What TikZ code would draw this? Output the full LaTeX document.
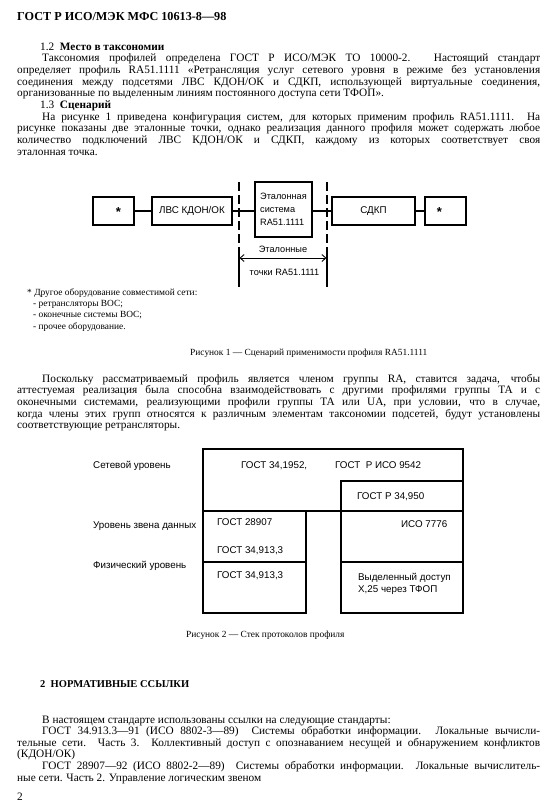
\documentclass[tikz,border=0pt]{standalone}
\usepackage{graphicx}
\usepackage{fontspec}
\setmainfont{Liberation Serif}
\newfontfamily\figfont{Liberation Sans}
\usetikzlibrary{arrows.meta}
\newsavebox\jlinebox
\newcommand\JS[2]{\sbox\jlinebox{#2}\ifdim\wd\jlinebox>#1\relax\resizebox{#1}{\height}{\usebox\jlinebox}\else\makebox[#1][s]{#2}\fi}
\begin{document}
\begin{tikzpicture}[x=1pt,y=-1pt,
  bt/.style={anchor=base west, inner sep=0pt, font=\fontsize{11.3}{11.7}\selectfont},
  sm/.style={anchor=base west, inner sep=0pt, font=\fontsize{9.4}{11}\selectfont},
  ft/.style={anchor=base west, inner sep=0pt, font=\figfont\fontsize{9.8}{12}\selectfont},
  fbox/.style={draw, line width=1.1pt, inner sep=0pt, font=\figfont\fontsize{9.8}{13}\selectfont},
  cell/.style={draw, line width=1.1pt, inner sep=0pt},
  star/.style={anchor=base, inner sep=0pt, font=\figfont\bfseries\fontsize{13}{13}\selectfont},
  conn/.style={line width=1.1pt},
  refline/.style={line width=1.1pt, dash pattern=on 9pt off 4pt},
  dimarrow/.style={line width=0.9pt, {Straight Barb[length=4pt,width=7pt]}-{Straight Barb[length=4pt,width=7pt]}}
]
\useasboundingbox (0,0) rectangle (557,812);
\fill[white] (0,0) rectangle (557,812);

% header
\node[bt, font=\fontsize{12.2}{13}\selectfont\bfseries] (hdr) at (17,20) {ГОСТ Р ИСО/МЭК МФС 10613-8—98};

% 1.2
\node[bt] (s12) at (40,50) {1.2 \ \textbf{Место в таксономии}};
\node[bt] (p1a) at (42,61.7) {\JS{498pt}{Таксономия профилей определена ГОСТ Р ИСО/МЭК ТО 10000-2. Настоящий стандарт}};
\node[bt] (p1b) at (17,73.4) {\JS{523pt}{определяет профиль RA51.1111 «Ретрансляция услуг сетевого уровня в режиме без установления}};
\node[bt] (p1c) at (17,85.1) {\JS{523pt}{соединения между подсетями ЛВС КДОН/ОК и СДКП, использующей виртуальные соединения,}};
\node[bt] (p1d) at (17,96.8) {организованные по выделенным линиям постоянного доступа сети ТФОП».};
% 1.3
\node[bt] (s13) at (40,108.5) {1.3 \ \textbf{Сценарий}};
\node[bt] (p2a) at (42,120.2) {\JS{498pt}{На рисунке 1 приведена конфигурация систем, для которых применим профиль RA51.1111. На}};
\node[bt] (p2b) at (17,131.9) {\JS{523pt}{рисунке показаны две эталонные точки, однако реализация данного профиля может содержать любое}};
\node[bt] (p2c) at (17,143.6) {\JS{523pt}{количество подключений ЛВС КДОН/ОК и СДКП, каждому из которых соответствует своя}};
\node[bt] (p2d) at (17,155.3) {эталонная точка.};

% Figure 1
\node[fbox, minimum width=41pt, minimum height=28pt] (b1) at (113.5,211) {};
\node[star] (st1) at (118.5,216.5) {*};
\node[fbox, minimum width=80pt, minimum height=28pt] (lvs) at (192,211) {ЛВС КДОН/ОК};
\node[fbox, minimum width=57pt, minimum height=55pt, align=left, font=\figfont\fontsize{9.2}{13}\selectfont] (et) at (283.5,209.5) {Эталонная\\система\\RA51.1111};
\node[fbox, minimum width=83pt, minimum height=28pt] (sdkp) at (373.5,211) {СДКП};
\node[fbox, minimum width=41pt, minimum height=28pt] (b2) at (445.5,211) {};
\node[star] (st2) at (439.5,216.5) {*};
\draw[conn] (b1.east) -- (lvs.west);
\draw[conn] (lvs.east) -- (lvs.east -| et.west);
\draw[conn] (sdkp.west -| et.east) -- (sdkp.west);
\draw[conn] (sdkp.east) -- (b2.west);
\coordinate (dlt) at (239,182);
\coordinate (dlm) at (239,252);
\coordinate (dlb) at (239,287);
\coordinate (drt) at (327,182);
\coordinate (drm) at (327,252);
\coordinate (drb) at (327,287);
\draw[refline] (dlt) -- (dlm);
\draw[conn] (dlm) -- (dlb);
\draw[refline] (drt) -- (drm);
\draw[conn] (drm) -- (drb);
\coordinate (al) at (239.5,258);
\coordinate (ar) at (326.5,258);
\draw[dimarrow] (al) -- (ar);
\node[ft, anchor=base, font=\figfont\fontsize{9.2}{12}\selectfont] (etl1) at (283,252) {Эталонные};
\node[ft, anchor=base, font=\figfont\fontsize{9.2}{12}\selectfont] (etl2) at (284.5,275.5) {точки RA51.1111};

% footnote
\node[sm] (fn0) at (27,295) {* Другое оборудование совместимой сети:};
\node[sm] (fn1) at (33,306.3) {- ретрансляторы ВОС;};
\node[sm] (fn2) at (33,317.6) {- оконечные системы ВОС;};
\node[sm] (fn3) at (33,329) {- прочее оборудование.};
\node[sm] (cap1) at (190,355) {Рисунок 1 — Сценарий применимости профиля RA51.1111};

% paragraph
\node[bt] (p3a) at (42,382) {\JS{498pt}{Поскольку рассматриваемый профиль является членом группы RA, ставится задача, чтобы}};
\node[bt] (p3b) at (17,393.7) {\JS{523pt}{аттестуемая реализация была способна взаимодействовать с другими профилями группы ТА и с}};
\node[bt] (p3c) at (17,405.4) {\JS{523pt}{оконечными системами, реализующими профили группы ТА или UA, при условии, что в случае,}};
\node[bt] (p3d) at (17,417.1) {\JS{523pt}{когда члены этих групп относятся к различным элементам таксономии подсетей, будут установлены}};
\node[bt] (p3e) at (17,428.8) {соответствующие ретрансляторы.};

% Figure 2
\node[cell, minimum width=260pt, minimum height=62pt] (net) at (333,480) {};
\node[cell, minimum width=122pt, minimum height=30pt] (x25p) at (402,496) {};
\node[cell, minimum width=103pt, minimum height=51pt] (dlL) at (254.5,536.5) {};
\node[cell, minimum width=122pt, minimum height=51pt] (dlR) at (402,536.5) {};
\node[cell, minimum width=103pt, minimum height=51pt] (phL) at (254.5,587.5) {};
\node[cell, minimum width=122pt, minimum height=51pt] (phR) at (402,587.5) {};
\node[ft] (l1) at (93,468) {Сетевой уровень};
\node[ft] (l2) at (93,528) {Уровень звена данных};
\node[ft] (l3) at (93,568) {Физический уровень};
\node[ft] (c1) at (241,468) {ГОСТ 34,1952,};
\node[ft] (c2) at (335,468) {ГОСТ\ \ Р ИСО 9542};
\node[ft] (c3) at (357,499) {ГОСТ Р 34,950};
\node[ft] (c4) at (217,525.5) {ГОСТ 28907};
\node[ft] (c5) at (217,553.5) {ГОСТ 34,913,3};
\node[ft] (c6) at (401,527) {ИСО 7776};
\node[ft] (c7) at (217,578.5) {ГОСТ 34,913,3};
\node[ft] (c8) at (358,580) {Выделенный доступ};
\node[ft] (c9) at (358,592.5) {X,25 через ТФОП};
\node[sm] (cap2) at (186,637) {Рисунок 2 — Стек протоколов профиля};

% section 2
\node[bt, font=\fontsize{10.5}{12}\selectfont\bfseries] (h2) at (40,687) {2 \ НОРМАТИВНЫЕ ССЫЛКИ};
\node[bt] (r0) at (42,723) {В настоящем стандарте использованы ссылки на следующие стандарты:};
\node[bt] (r1a) at (42,734.6) {\JS{498pt}{ГОСТ 34.913.3—91 (ИСО 8802-3—89)\ \ Системы обработки информации. Локальные вычисли-}};
\node[bt] (r1b) at (17,746.2) {\JS{523pt}{тельные сети. Часть 3. Коллективный доступ с опознаванием несущей и обнаружением конфликтов}};
\node[bt] (r1c) at (17,757.8) {(КДОН/ОК)};
\node[bt] (r2a) at (42,769.4) {\JS{498pt}{ГОСТ 28907—92 (ИСО 8802-2—89)\ \ Системы обработки информации. Локальные вычислитель-}};
\node[bt] (r2b) at (17,781) {ные сети. Часть 2. Управление логическим звеном};
\node[bt] (pg) at (17,800) {2};
\end{tikzpicture}
\end{document}
